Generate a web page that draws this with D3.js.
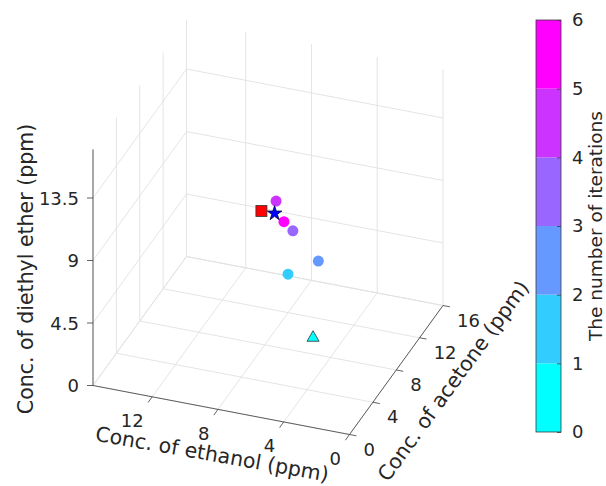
<!DOCTYPE html>
<html>
<head>
<meta charset="utf-8">
<script src="https://cdn.jsdelivr.net/npm/d3@7"></script>
<style>
  html, body { margin: 0; padding: 0; background: #fff; }
  svg { display: block; }
  text { font-family: "DejaVu Sans", "Noto Sans", sans-serif; fill: #262626; }
</style>
</head>
<body>
<svg id="chart" width="606" height="486"></svg>
<script>
// Iteration path of the concentration estimate (ppm)
const iterations = [0, 1, 2, 3, 4, 5];
const ethanol    = [4.35, 6.05, 5.45, 6.5, 7.45, 6.9];
const acetone    = [6.0, 6.5, 10.0, 8.6, 8.4, 8.2];
const ether      = [2.5, 6.4, 5.45, 8.2, 10.25, 9.0];

// Reference concentration (square) and final estimate (star)
const trueValue  = [8.2, 8.0, 9.6];
const finalValue = [7.4, 8.0, 9.6];

// Axis ticks
const ethanolTicks = [0, 4, 8, 12];
const acetoneTicks = [0, 4, 8, 12, 16];
const etherTicks   = [0, 4.5, 9, 13.5];
const iterTicks    = [0, 1, 2, 3, 4, 5, 6];
const coolColors   = ["#00ffff", "#33ccff", "#6699ff", "#9966ff", "#cc33ff", "#ff00ff"];

const svg = d3.select("#chart");
const FS = 18;      // tick labels
const LFS = 20.5;   // axis titles

// Oblique projection of the 3-D box: each data axis contributes a screen offset
const origin = [349.5, 434.5];            // ethanol 0, acetone 0, ether 0
const E_MAX = 15.6, A_MAX = 16, Z_MAX = 17;
const eX = d3.scaleLinear().domain([0, E_MAX]).range([0, -256.5]);
const eY = d3.scaleLinear().domain([0, E_MAX]).range([0, -49]);
const aX = d3.scaleLinear().domain([0, A_MAX]).range([0, 93.5]);
const aY = d3.scaleLinear().domain([0, A_MAX]).range([0, -129]);
const zY = d3.scaleLinear().domain([0, Z_MAX]).range([0, -236.1]);

function proj(e, a, z) {
  return [origin[0] + eX(e) + aX(a), origin[1] + eY(e) + aY(a) + zY(z)];
}
const line = d3.line();

// ---- grid ----
const grid = svg.append("g").attr("stroke", "#e1e1e1").attr("stroke-width", 0.9).attr("fill", "none");
const gridSegs = [];
// floor: acetone lines (parallel to ethanol axis)
acetoneTicks.forEach(a => gridSegs.push([proj(0, a, 0), proj(E_MAX, a, 0)]));
// floor: ethanol lines (parallel to acetone axis)
ethanolTicks.forEach(e => gridSegs.push([proj(e, 0, 0), proj(e, A_MAX, 0)]));
gridSegs.push([proj(E_MAX, 0, 0), proj(E_MAX, A_MAX, 0)]);
// left wall (ethanol = max): vertical acetone lines, horizontal ether lines
acetoneTicks.forEach(a => gridSegs.push([proj(E_MAX, a, 0), proj(E_MAX, a, Z_MAX)]));
etherTicks.forEach(z => gridSegs.push([proj(E_MAX, 0, z), proj(E_MAX, A_MAX, z)]));
// back wall (acetone = max): vertical ethanol lines, horizontal ether lines
ethanolTicks.forEach(e => gridSegs.push([proj(e, A_MAX, 0), proj(e, A_MAX, Z_MAX)]));
etherTicks.forEach(z => gridSegs.push([proj(0, A_MAX, z), proj(E_MAX, A_MAX, z)]));
grid.selectAll("path").data(gridSegs).join("path").attr("d", d => line(d));

// ---- axis lines ----
const axisColor = "#3a3a3a";
const axes = svg.append("g").attr("stroke", axisColor).attr("stroke-width", 0.8).attr("fill", "none");
axes.append("path").attr("d", line([proj(E_MAX, 0, 0), proj(E_MAX, 0, Z_MAX)]));
axes.append("path").attr("d", line([proj(0, 0, 0), proj(E_MAX, 0, 0)]));
axes.append("path").attr("d", line([proj(0, 0, 0), proj(0, A_MAX, 0)]));

// ether (z) ticks + labels
etherTicks.forEach(z => {
  const p = proj(E_MAX, 0, z);
  axes.append("path").attr("d", line([p, [p[0] - 6, p[1]]]));
  svg.append("text").attr("x", p[0] - 14).attr("y", p[1]).attr("text-anchor", "end")
    .attr("dominant-baseline", "central").attr("font-size", FS).text(d3.format("~g")(z));
});
// ethanol ticks + labels
ethanolTicks.forEach(e => {
  const p = proj(e, 0, 0);
  axes.append("path").attr("d", line([p, [p[0] - 4.1, p[1] + 5.7]]));
  svg.append("text").attr("x", p[0] - 8.5).attr("y", p[1] + 24).attr("text-anchor", "end")
    .attr("dominant-baseline", "central").attr("font-size", FS).text(e);
});
// acetone ticks + labels
acetoneTicks.forEach(a => {
  const p = proj(0, a, 0);
  axes.append("path").attr("d", line([p, [p[0] + 6.9, p[1] + 1.3]]));
  svg.append("text").attr("x", p[0] + 14).attr("y", p[1] + 14.5).attr("text-anchor", "start")
    .attr("dominant-baseline", "central").attr("font-size", FS).text(a);
});

// axis titles
svg.append("text").attr("transform", "translate(33,269) rotate(-90)")
  .attr("text-anchor", "middle").attr("font-size", LFS)
  .text("Conc. of diethyl ether (ppm)");
svg.append("text").attr("transform", "translate(211,461) rotate(10)")
  .attr("text-anchor", "middle").attr("font-size", LFS)
  .text("Conc. of ethanol (ppm)");
svg.append("text").attr("transform", "translate(459,385) rotate(-54)")
  .attr("text-anchor", "middle").attr("font-size", LFS)
  .text("Conc. of acetone (ppm)");

// ---- colour scale ----
const color = d3.scaleQuantize().domain([0, 6]).range(coolColors);

// ---- markers ----
const pts = iterations.map((it, i) => ({ it, p: proj(ethanol[i], acetone[i], ether[i]) }));
const marks = svg.append("g");
// iteration circles (the starting point is drawn as a triangle)
marks.selectAll("circle").data(pts.slice(1)).join("circle")
  .attr("cx", d => d.p[0]).attr("cy", d => d.p[1]).attr("r", 5.5)
  .attr("fill", d => color(d.it));
const tri = pts[0];
marks.append("path")
  .attr("d", d3.symbol(d3.symbolTriangle, 64)())
  .attr("transform", `translate(${tri.p[0]},${tri.p[1]})`)
  .attr("fill", color(tri.it)).attr("stroke", "#333").attr("stroke-width", 0.8);
const sq = proj(...trueValue);
marks.append("rect").attr("x", sq[0] - 5.5).attr("y", sq[1] - 5.5).attr("width", 11).attr("height", 11)
  .attr("fill", "#ff0000").attr("stroke", "#333").attr("stroke-width", 0.8);
const st = proj(...finalValue);
marks.append("path")
  .attr("d", d3.symbol(d3.symbolStar, 66)())
  .attr("transform", `translate(${st[0]},${st[1]})`)
  .attr("fill", "#0000ff").attr("stroke", "#000040").attr("stroke-width", 0.8);

// ---- colorbar ----
const cbX = 536, cbW = 25;
const cbScale = d3.scaleLinear().domain([0, 6]).range([432, 20]);
const cb = svg.append("g");
cb.selectAll("rect.band").data(coolColors).join("rect").attr("class", "band")
  .attr("x", cbX).attr("width", cbW)
  .attr("y", (c, i) => cbScale(i + 1)).attr("height", (c, i) => cbScale(i) - cbScale(i + 1))
  .attr("fill", c => c);
cb.append("rect").attr("x", cbX).attr("y", cbScale(6)).attr("width", cbW)
  .attr("height", cbScale(0) - cbScale(6)).attr("fill", "none")
  .attr("stroke", axisColor).attr("stroke-width", 0.8);
const cbAxis = cb.append("g").attr("transform", `translate(${cbX + cbW},0)`)
  .call(d3.axisRight(cbScale).tickValues(iterTicks).tickFormat(d3.format("d"))
    .tickSize(-4).tickPadding(11));
cbAxis.select(".domain").remove();
cbAxis.selectAll("line").attr("stroke", axisColor).attr("stroke-width", 0.8);
cbAxis.selectAll("text").attr("font-size", FS).attr("fill", "#262626")
  .style("font-family", "\"DejaVu Sans\", \"Noto Sans\", sans-serif");
svg.append("text").attr("transform", "translate(602,226) rotate(-90)")
  .attr("text-anchor", "middle").attr("font-size", 18.5)
  .text("The number of iterations");
</script>
</body>
</html>
